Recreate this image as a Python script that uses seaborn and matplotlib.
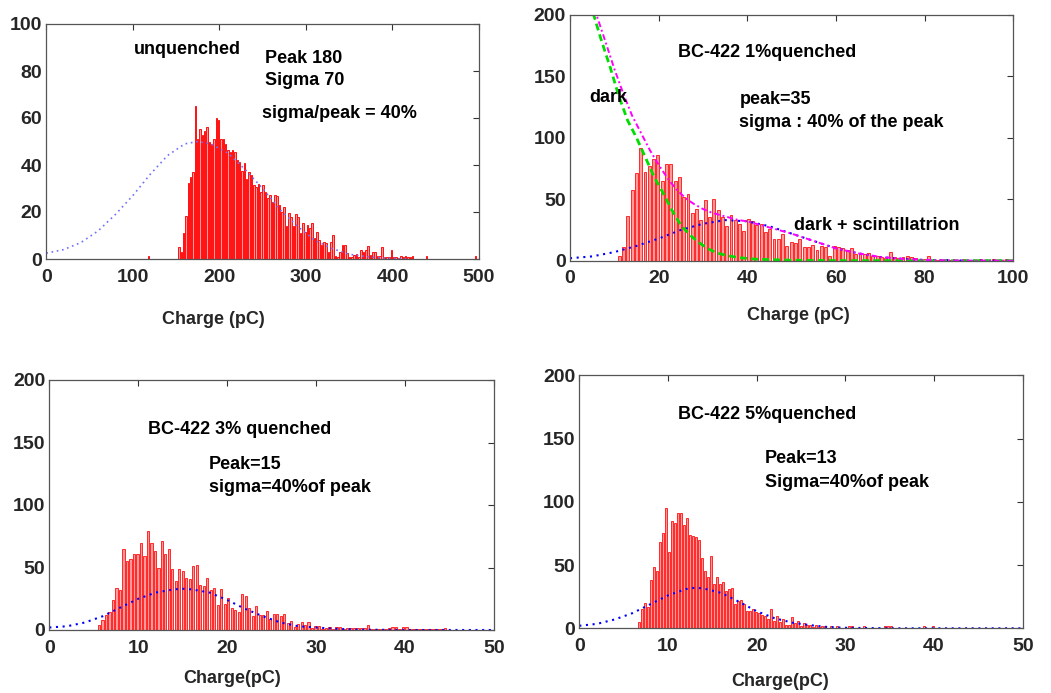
import numpy as np
import pandas as pd
import matplotlib
matplotlib.use("Agg")
import matplotlib.pyplot as plt
import seaborn as sns

# ---------------- data ----------------
# Panel 1 : unquenched (bins of ~2.7 pC starting at 118.2 pC)
p1_start, p1_width = 118.2, 2.7
p1_counts = [1.2, 0, 0, 0, 0, 0, 0, 0, 0, 0, 0, 0, 0,
             5.2, 3, 11.2, 18.4, 32.2, 35, 36.9, 65.2, 51.2, 55.3, 52.8, 54.5, 56.2, 50, 49,
             51.2, 59.9, 59.2, 51.2, 51.2, 49, 46.4, 45.4, 46.4, 45.4, 42.1, 41.4, 37.4, 40.7,
             34, 36.9, 35.8, 31.5, 30.8, 31.8, 28.7, 31.5, 28.7, 25.8, 27.3, 24.4, 27.3, 27,
             23, 20.2,
             22.3, 14, 19.7, 18, 14, 19, 18, 11.2, 15.4, 11.5, 14.5, 13, 15.2, 8.9, 11.6, 8.1,
             5.8, 7.4, 6.9, 3, 7.4, 10.2, 1.3, 1, 3, 6, 6, 2.4, 1, 0.7, 1.7, 2.1, 1, 3.9, 3,
             3.9, 5.4, 1.7, 3, 3, 1.3, 1.4, 5.1, 1, 1, 0.7, 3.9, 1, 1, 0.5, 1.3, 0.7, 1.3, 0.7,
             0.7, 1.3, 0, 0, 0, 0, 0, 1.3,
             0, 0, 0, 0, 0, 0, 0, 0, 0, 0, 0, 0, 0, 0, 0, 0, 0, 0, 0, 0, 1.3]
p1_fit_x = [0, 20, 40, 60, 80, 100, 120, 140, 160, 175, 190, 210, 230, 250, 270, 290,
            310, 330, 350, 370, 390, 420]
p1_fit_y = [2.5, 4, 7, 12, 19, 27, 36, 44, 49, 50, 49, 45, 38, 30, 21, 14, 8, 4.5, 2,
            1, 0.4, 0]

# Panel 2 : BC-422 1% quenched (bins of ~0.97 pC starting at 11.1 pC)
p2_start, p2_width = 11.1, 0.97
p2_counts = [4, 11, 36.6, 57.7, 71, 92, 72, 77, 83, 86, 65, 79, 79, 65, 68, 52, 54, 39, 42,
             33, 49, 35.5, 50, 41.5, 35.5, 28.5, 37, 33.3, 30, 24, 34, 32.5, 29, 30, 23.5,
             26, 18, 17.6, 22, 12.2, 15, 14.5, 18, 11, 11,
             13, 8.4, 12.2, 11, 3.5, 12.2, 11, 10.3, 8.9, 10.3, 5.7, 5.7, 5.7, 6.2, 3.5, 3.5,
             3, 2, 7.3, 3, 2, 3, 3.5, 3, 2, 0.8, 1.4, 3.5, 0.8,
             0.5, 0.5, 1, 0.5, 0.5, 0.5, 1, 0.5, 0.5, 0.5, 1, 0.5, 0.5, 1, 0.5, 0.5, 1]
p2_gauss_x = [0, 5, 10, 15, 20, 25, 30, 35, 40, 45, 50, 55, 60, 65, 70, 75, 80, 90, 100]
p2_gauss_y = [2, 3.5, 7, 12, 18, 25, 30, 33, 32, 28, 22, 16, 10, 6, 3, 1.5, 0.6, 0.1, 0]
p2_dark_x = [4.5, 7, 9, 11, 13, 15, 17, 19, 21, 23, 25, 27, 29, 31, 33, 35, 38, 42, 50,
             60, 80, 100]
p2_dark_y = [210, 180, 158, 134, 114, 100, 84, 68, 55, 41, 29, 21, 15, 10, 6.5, 4.5, 2.5,
             1.2, 0.4, 0.1, 0, 0]
p2_sum_x = [5.5, 8, 10, 12, 14, 16, 18, 20, 22, 24, 26, 28, 30, 32, 34, 36, 38, 40, 42, 45,
            50, 55, 60, 65, 70, 75, 80, 90, 100]
p2_sum_y = [205, 178, 156, 136, 118, 104, 90, 78, 67, 58, 51, 46, 42, 39, 37, 35, 33, 32,
            30, 27, 22, 16, 10, 6, 3, 1.5, 0.6, 0.1, 0]

# Panel 3 : BC-422 3% quenched (bins of ~0.393 pC starting at 5.58 pC)
p3_start, p3_width = 5.58, 0.393
p3_counts = [4, 8, 12, 14.7, 24, 34, 32, 64.5, 55, 57, 60.8, 61, 70, 59, 79, 70, 63, 50, 71,
             61, 65, 48.8, 39, 48.5, 47, 42, 41, 51, 52, 36, 35, 42, 32, 34, 20, 32.8, 21, 26,
             18, 16, 14.7, 28.8, 27, 18, 11, 19, 12, 12, 15, 9, 13, 13, 11, 13, 5.9, 7, 2.7, 5,
             6.5, 4, 6.5, 2, 3.5, 3.5, 1, 2, 2.5, 1, 2.7, 2.7, 1, 2, 2, 1.5, 2, 2, 1.5, 3.7,
             0.5, 0.5, 0.5, 0.5, 1, 2, 2.5, 2.7, 0.5, 2.5, 2.5, 0.5, 0.5, 0.5, 0.5, 0.5, 0.5,
             0.5, 0.5, 0.5, 0.5, 2]
p3_fit_x = [0, 2, 4, 6, 8, 10, 12, 14, 15, 16, 18, 20, 22, 24, 26, 28, 30, 32, 35, 40, 50]
p3_fit_y = [2, 3, 6, 11, 18, 25, 30, 32.5, 33, 32.5, 30, 24, 17, 11, 6, 3, 2, 1, 0.3, 0, 0]

# Panel 4 : BC-422 5% quenched (bins of ~0.338 pC starting at 6.75 pC)
p4_start, p4_width = 6.75, 0.338
p4_counts = [5, 15, 20.3, 16.6, 38.2, 48.2, 45.6, 68.5, 75, 94.8, 60, 85, 83, 91, 91, 82, 87,
             73.7, 73, 72, 70, 55.6, 45.3, 40.8, 57, 35, 40.8, 35, 36.9, 29.7, 30.8, 32, 19,
             21.8, 22.3, 19, 13.9, 13.9, 15, 13, 12, 10.5, 9.8, 7, 15, 6, 10, 5, 7, 2.6, 2.6,
             9, 4, 6, 2, 4.5, 3, 2.6, 1.3, 2.6, 1.3, 2,
             1.5, 0.5, 2, 0.5, 1.5, 0.5, 0.5, 0.5, 1.5, 1.5, 0.5, 0.5, 0.5, 1.5, 0.5, 0.5, 0.5,
             0.5, 0.5, 0.5, 1.5, 1.5, 1.5, 0.5, 0.5, 0.5, 0.5, 0.5, 0.5, 0.5, 0.5, 0.5, 0.5,
             2, 0.5, 0.5, 1.5]
p4_fit_x = [0, 2, 4, 6, 8, 10, 12, 13, 14, 16, 18, 20, 22, 24, 26, 28, 30, 35, 50]
p4_fit_y = [2, 3.5, 7, 12, 19, 26, 31, 32, 31.5, 28, 21, 13.5, 8, 4.5, 2.5, 1, 0.4, 0, 0]

# tick values
p1_xticks = [0, 100, 200, 300, 400, 500]
p1_yticks = [0, 20, 40, 60, 80, 100]
p2_xticks = [0, 20, 40, 60, 80, 100]
p2_yticks = [0, 50, 100, 150, 200]
p34_xticks = [0, 10, 20, 30, 40, 50]
p34_yticks = [0, 50, 100, 150, 200]

# ---------------- style ----------------
sns.set_theme(style="white")
plt.rcParams["font.family"] = ["Liberation Sans", "DejaVu Sans"]
plt.rcParams["font.weight"] = "bold"

W, H = 1051, 693
fig = plt.figure(figsize=(W / 100, H / 100), dpi=100)
fig.patch.set_facecolor("white")


def px_axes(left, top, right, bottom):
    return fig.add_axes([left / W, 1 - bottom / H, (right - left) / W, (bottom - top) / H])


ax1 = px_axes(46.3, 24, 479, 259)
ax2 = px_axes(570, 14.7, 1013.3, 260.7)
ax3 = px_axes(49.3, 380, 494, 630)
ax4 = px_axes(579.3, 375.3, 1022.7, 628.3)

BAR_FACE = "#ff9a9a"
BAR_EDGE = "#ff1010"


def draw_hist(ax, start, width, counts, lw):
    counts = np.asarray(counts, dtype=float)
    n = len(counts)
    centers = start + width * np.arange(n)
    lo = start - width / 2
    hi = lo + width * n
    df = pd.DataFrame({"charge": centers, "count": counts})
    sns.histplot(data=df, x="charge", weights="count", binwidth=width,
                 binrange=(lo, hi - width * 1e-3), shrink=0.66,
                 color=BAR_FACE, edgecolor=BAR_EDGE, linewidth=lw, alpha=1.0, ax=ax)


def draw_line(ax, xs, ys, color, ls, lw):
    df = pd.DataFrame({"x": xs, "y": ys})
    sns.lineplot(data=df, x="x", y="y", color=color, linestyle=ls, linewidth=lw,
                 ax=ax, sort=False, estimator=None, legend=False)


def style_axes(ax, xlim, ylim, xticks, yticks, xlabel, label_xy):
    ax.set_xlim(*xlim)
    ax.set_ylim(*ylim)
    ax.set_xticks(xticks)
    ax.set_yticks(yticks)
    ax.set_xticklabels([str(t) for t in xticks])
    ax.set_yticklabels([str(t) for t in yticks])
    ax.tick_params(direction="in", top=True, right=True, length=4, width=0.8,
                   color="#333333", labelsize=14, pad=7)
    ax.tick_params(axis="y", pad=3)
    for lab in ax.get_xticklabels() + ax.get_yticklabels():
        lab.set_fontweight("bold")
    for sp in ax.spines.values():
        sp.set_color("#555555")
        sp.set_linewidth(0.9)
    ax.set_ylabel("")
    ax.set_xlabel(xlabel, fontsize=13, fontweight="bold")
    ax.xaxis.set_label_coords(*label_xy)
    ax.set_facecolor("white")
    ax.grid(False)


TXT = dict(fontsize=13, fontweight="bold", color="black", va="center", ha="left")

# Panel 1
draw_hist(ax1, p1_start, p1_width, p1_counts, 0.7)
draw_line(ax1, p1_fit_x, p1_fit_y, "#7070ff", (0, (1, 2.2)), 1.2)
style_axes(ax1, (0, 500), (0, 100), p1_xticks, p1_yticks, "Charge (pC)", (0.387, -0.22))
ax1.text(101, 89, "unquenched", **TXT)
ax1.text(253, 85.5, "Peak 180", **TXT)
ax1.text(253, 76, "Sigma 70", **TXT)
ax1.text(249, 62, "sigma/peak = 40%", **TXT)

# Panel 2
draw_hist(ax2, p2_start, p2_width, p2_counts, 0.6)
draw_line(ax2, p2_gauss_x, p2_gauss_y, "#0000ff", (0, (1, 2.2)), 1.5)
draw_line(ax2, p2_dark_x, p2_dark_y, "#00dd00", (0, (2.5, 1.5)), 2.0)
draw_line(ax2, p2_sum_x, p2_sum_y, "#ff00ff", (0, (3, 1.5, 1, 1.5)), 1.4)
style_axes(ax2, (0, 100), (0, 200), p2_xticks, p2_yticks, "Charge (pC)", (0.516, -0.19))
ax2.text(24.4, 169, "BC-422 1%quenched", **TXT)
ax2.text(4.3, 133, "dark", **TXT)
ax2.text(38.2, 131, "peak=35", **TXT)
ax2.text(38.2, 112, "sigma : 40% of the peak", **TXT)
ax2.text(50.6, 28.4, "dark + scintillatrion", **TXT)

# Panel 3
draw_hist(ax3, p3_start, p3_width, p3_counts, 0.6)
draw_line(ax3, p3_fit_x, p3_fit_y, "#0000ff", (0, (1, 2.2)), 1.5)
style_axes(ax3, (0, 50), (0, 200), p34_xticks, p34_yticks, "Charge(pC)", (0.412, -0.16))
ax3.text(11.06, 160, "BC-422 3% quenched", **TXT)
ax3.text(17.9, 132, "Peak=15", **TXT)
ax3.text(17.9, 113.8, "sigma=40%of peak", **TXT)

# Panel 4
draw_hist(ax4, p4_start, p4_width, p4_counts, 0.6)
draw_line(ax4, p4_fit_x, p4_fit_y, "#0000ff", (0, (1, 2.2)), 1.5)
style_axes(ax4, (0, 50), (0, 200), p34_xticks, p34_yticks, "Charge(pC)", (0.454, -0.178))
ax4.text(11.1, 169, "BC-422 5%quenched", **TXT)
ax4.text(20.9, 134.4, "Peak=13", **TXT)
ax4.text(20.9, 115.4, "Sigma=40%of peak", **TXT)

fig.savefig("out.png", dpi=100, facecolor="white")
